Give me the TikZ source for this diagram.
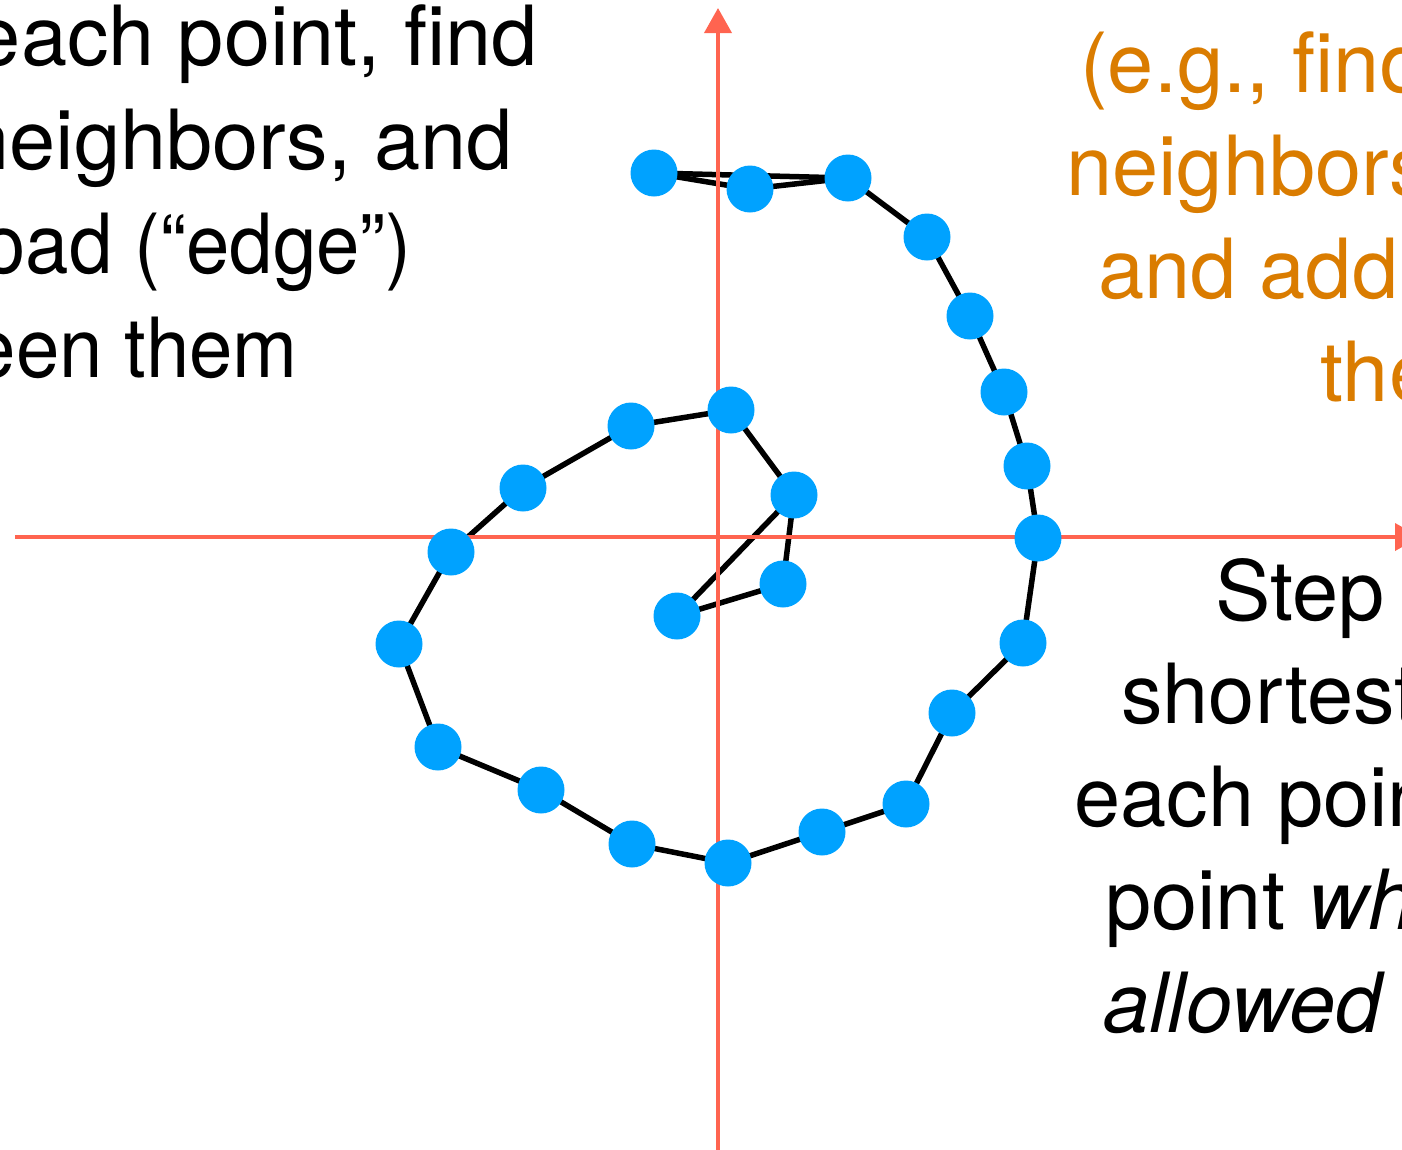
\documentclass[tikz,border=0pt]{standalone}
\usepackage{fontspec}
\setmainfont{TeX Gyre Heros}
\usetikzlibrary{arrows.meta}
\definecolor{axisred}{RGB}{255,100,80}
\definecolor{ptblue}{RGB}{0,162,255}
\definecolor{txtorange}{RGB}{218,124,0}
\pgfdeclarelayer{edgelayer}
\pgfdeclarelayer{axislayer}
\pgfsetlayers{edgelayer,axislayer,main}
\tikzset{
  pt/.style={circle,fill=ptblue,draw=none,minimum size=47pt,inner sep=0pt},
  link/.style={draw=black,line width=5.5pt,line join=round},
  axisline/.style={draw=axisred,line width=3.8pt,-{Triangle[length=25pt,width=27pt]}},
  bigtext/.style={inner sep=0pt,font=\fontsize{83}{103}\selectfont},
  narrowtext/.style={inner sep=0pt,font=\fontsize{83}{103}\selectfont\addfontfeature{FakeStretch=0.94}},
  x=1pt,y=-1pt
}
\begin{document}
\begin{tikzpicture}
\useasboundingbox (0,0) rectangle (1402,1149);
\clip (0,0) rectangle (1402,1149);
% points
\node[pt] (p1) at (654,173) {};
\node[pt] (p2) at (750,189) {};
\node[pt] (p3) at (848,178) {};
\node[pt] (p4) at (927,237) {};
\node[pt] (p5) at (970,316) {};
\node[pt] (p6) at (1004,392) {};
\node[pt] (p7) at (1027,466) {};
\node[pt] (p8) at (1038,538) {};
\node[pt] (p9) at (1023,643) {};
\node[pt] (p10) at (952,713) {};
\node[pt] (p11) at (906,804) {};
\node[pt] (p12) at (822,832) {};
\node[pt] (p13) at (728,863) {};
\node[pt] (p14) at (632,844) {};
\node[pt] (p15) at (541,790) {};
\node[pt] (p16) at (438,747) {};
\node[pt] (p17) at (399,644) {};
\node[pt] (p18) at (451,552) {};
\node[pt] (p19) at (523,488) {};
\node[pt] (p20) at (631,426) {};
\node[pt] (p21) at (731,410) {};
\node[pt] (p22) at (794,495) {};
\node[pt] (p23) at (783,584) {};
\node[pt] (p24) at (677,616) {};
% edges
\begin{pgfonlayer}{edgelayer}
\draw[link] (p1.center) -- (p3.center);
\draw[link] (p1.center) -- (p2.center) -- (p3.center) -- (p4.center) -- (p5.center) -- (p6.center) -- (p7.center) -- (p8.center) -- (p9.center) -- (p10.center) -- (p11.center) -- (p12.center) -- (p13.center) -- (p14.center) -- (p15.center) -- (p16.center) -- (p17.center) -- (p18.center) -- (p19.center) -- (p20.center) -- (p21.center) -- (p22.center) -- (p23.center) -- (p24.center) -- (p22.center);
\end{pgfonlayer}
% axes
\coordinate (ybot) at (718,1160);
\coordinate (ytop) at (718,8);
\coordinate (xleft) at (15,537);
\coordinate (xright) at (1420,537);
\begin{pgfonlayer}{axislayer}
\draw[axisline] (ybot) -- (ytop);
\draw[axisline] (xleft) -- (xright);
\end{pgfonlayer}
% left text (cut at left edge)
\node[bigtext,anchor=base east] (l1) at (538,65) {each point, find};
\node[bigtext,anchor=base east] (l2) at (513,169) {neighbors, and};
\node[narrowtext,anchor=base east] (l3) at (412,273) {oad (“edge”)};
\node[narrowtext,anchor=base east] (l4) at (298,377) {een them};
% orange text (cut at right edge)
\node[bigtext,anchor=base west,text=txtorange] (o1) at (1080,92) {(e.g., find};
\node[bigtext,anchor=base west,text=txtorange] (o2) at (1066,195) {neighbors};
\node[bigtext,anchor=base west,text=txtorange] (o3) at (1098,298) {and add};
\node[bigtext,anchor=base west,text=txtorange] (o4) at (1320,401) {the};
% right black text (cut at right edge)
\node[bigtext,anchor=base west] (r1) at (1215,620) {Step};
\node[bigtext,anchor=base west] (r2) at (1121,723) {shortest};
\node[bigtext,anchor=base west] (r3) at (1074,826) {each poin};
\node[bigtext,anchor=base west] (r4) at (1105,929) {point \textit{wh}};
\node[bigtext,anchor=base west] (r5) at (1103,1032) {\textit{allowed}};
\end{tikzpicture}
\end{document}
